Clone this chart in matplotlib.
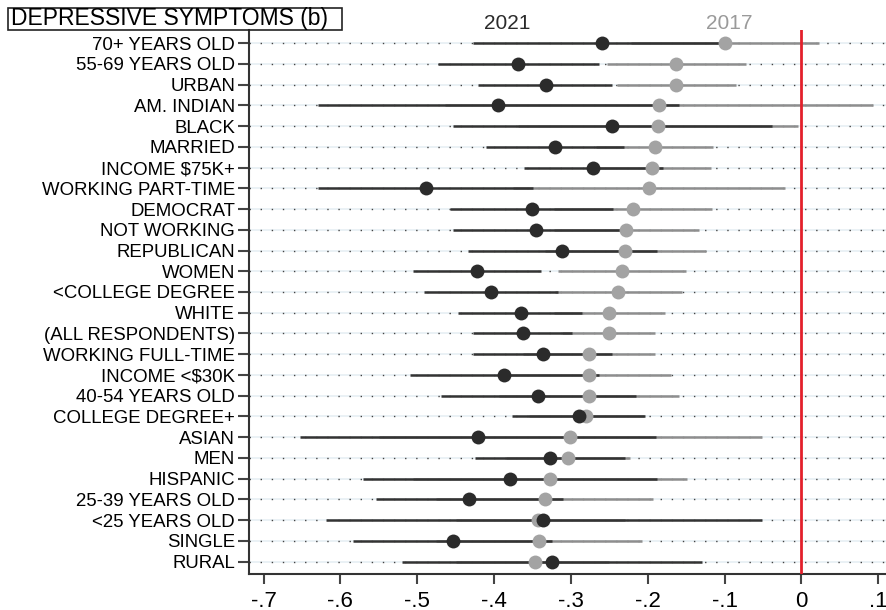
import numpy as np
import matplotlib.pyplot as plt
from matplotlib.patches import Rectangle

plt.rcParams['font.family'] = ['Liberation Sans', 'DejaVu Sans']

# groups, top to bottom
groups = ["70+ YEARS OLD", "55-69 YEARS OLD", "URBAN", "AM. INDIAN", "BLACK",
          "MARRIED", "INCOME $75K+", "WORKING PART-TIME", "DEMOCRAT", "NOT WORKING",
          "REPUBLICAN", "WOMEN", "<COLLEGE DEGREE", "WHITE", "(ALL RESPONDENTS)",
          "WORKING FULL-TIME", "INCOME <$30K", "40-54 YEARS OLD", "COLLEGE DEGREE+",
          "ASIAN", "MEN", "HISPANIC", "25-39 YEARS OLD", "<25 YEARS OLD", "SINGLE", "RURAL"]

# 2021 estimate and 95% interval
est21 = [-0.260, -0.369, -0.333, -0.395, -0.246, -0.321, -0.271, -0.489, -0.351, -0.345,
         -0.311, -0.422, -0.404, -0.365, -0.363, -0.337, -0.387, -0.343, -0.289,
         -0.421, -0.327, -0.379, -0.433, -0.336, -0.453, -0.324]
lo21 = [-0.428, -0.473, -0.421, -0.629, -0.454, -0.411, -0.361, -0.629, -0.457, -0.454,
        -0.434, -0.505, -0.491, -0.447, -0.427, -0.427, -0.509, -0.469, -0.377,
        -0.652, -0.425, -0.570, -0.554, -0.619, -0.584, -0.520]
hi21 = [-0.095, -0.264, -0.247, -0.159, -0.039, -0.231, -0.180, -0.349, -0.245, -0.234,
        -0.188, -0.339, -0.317, -0.285, -0.299, -0.247, -0.264, -0.215, -0.203,
        -0.189, -0.229, -0.188, -0.310, -0.051, -0.325, -0.129]

# 2017 estimate and 95% interval
est17 = [-0.100, -0.163, -0.163, -0.186, -0.187, -0.191, -0.194, -0.198, -0.219, -0.228,
         -0.229, -0.234, -0.239, -0.250, -0.251, -0.277, -0.277, -0.277, -0.280,
         -0.301, -0.304, -0.327, -0.334, -0.343, -0.341, -0.347]
lo17 = [-0.222, -0.253, -0.240, -0.464, -0.369, -0.267, -0.270, -0.375, -0.322, -0.322,
        -0.334, -0.317, -0.321, -0.322, -0.311, -0.362, -0.384, -0.393, -0.355,
        -0.550, -0.384, -0.506, -0.475, -0.450, -0.475, -0.450]
hi17 = [0.023, -0.072, -0.085, 0.093, -0.005, -0.115, -0.118, -0.021, -0.116, -0.134,
        -0.124, -0.150, -0.156, -0.178, -0.191, -0.191, -0.170, -0.160, -0.205,
        -0.052, -0.223, -0.149, -0.193, -0.230, -0.207, -0.250]

xticks = [-0.7, -0.6, -0.5, -0.4, -0.3, -0.2, -0.1, 0, 0.1]
xlabels = ["-.7", "-.6", "-.5", "-.4", "-.3", "-.2", "-.1", "0", ".1"]

dark = '#2b2b2b'
gray = '#a3a3a3'

fig = plt.figure(figsize=(8.86, 6.10), dpi=100)
ax = fig.add_axes([0.281, 0.059, 0.719, 0.892])

y = np.arange(len(groups))

# dotted row guides
for yy in y:
    ax.axhline(yy, color='#e6eff3', lw=1.2, zorder=0)
    ax.axhline(yy, color='#444444', lw=1.0, ls=(0, (1, 7)), zorder=0.5)

ax.hlines(y, lo17, hi17, color='#8e8e8e', lw=1.8, zorder=2)
ax.hlines(y, lo21, hi21, color='#333333', lw=1.8, zorder=3)
ax.plot(est17, y, 'o', color=gray, ms=10, mec='none', zorder=4)
ax.plot(est21, y, 'o', color=dark, ms=10, mec='none', zorder=5)

ax.axvline(0, color='#e3202b', lw=2, zorder=6)

ax.set_xlim(-0.719, 0.11)
ax.set_ylim(25.6, -0.64)
ax.set_yticks(y)
ax.set_yticklabels(groups, fontsize=13.4)
ax.set_xticks(xticks)
ax.set_xticklabels(xlabels, fontsize=16)
ax.tick_params(axis='y', length=8, width=1.5, color='#444444', pad=2)
ax.tick_params(axis='x', length=7, width=1.5, color='#444444', pad=5)

for s in ['top', 'right']:
    ax.spines[s].set_visible(False)
for s in ['left', 'bottom']:
    ax.spines[s].set_color('#333333')
    ax.spines[s].set_linewidth(1.5)

fig.patches.append(Rectangle((0.009, 0.951), 0.377, 0.036, transform=fig.transFigure,
                             fill=False, ec='#222222', lw=1.2))
fig.text(0.012, 0.969, "DEPRESSIVE SYMPTOMS (b)", fontsize=16.5, va='center', ha='left')
fig.text(0.573, 0.962, "2021", fontsize=15, color=dark, ha='center', va='center')
fig.text(0.823, 0.962, "2017", fontsize=15, color='#9a9a9a', ha='center', va='center')

fig.savefig('out.png', dpi=100)
